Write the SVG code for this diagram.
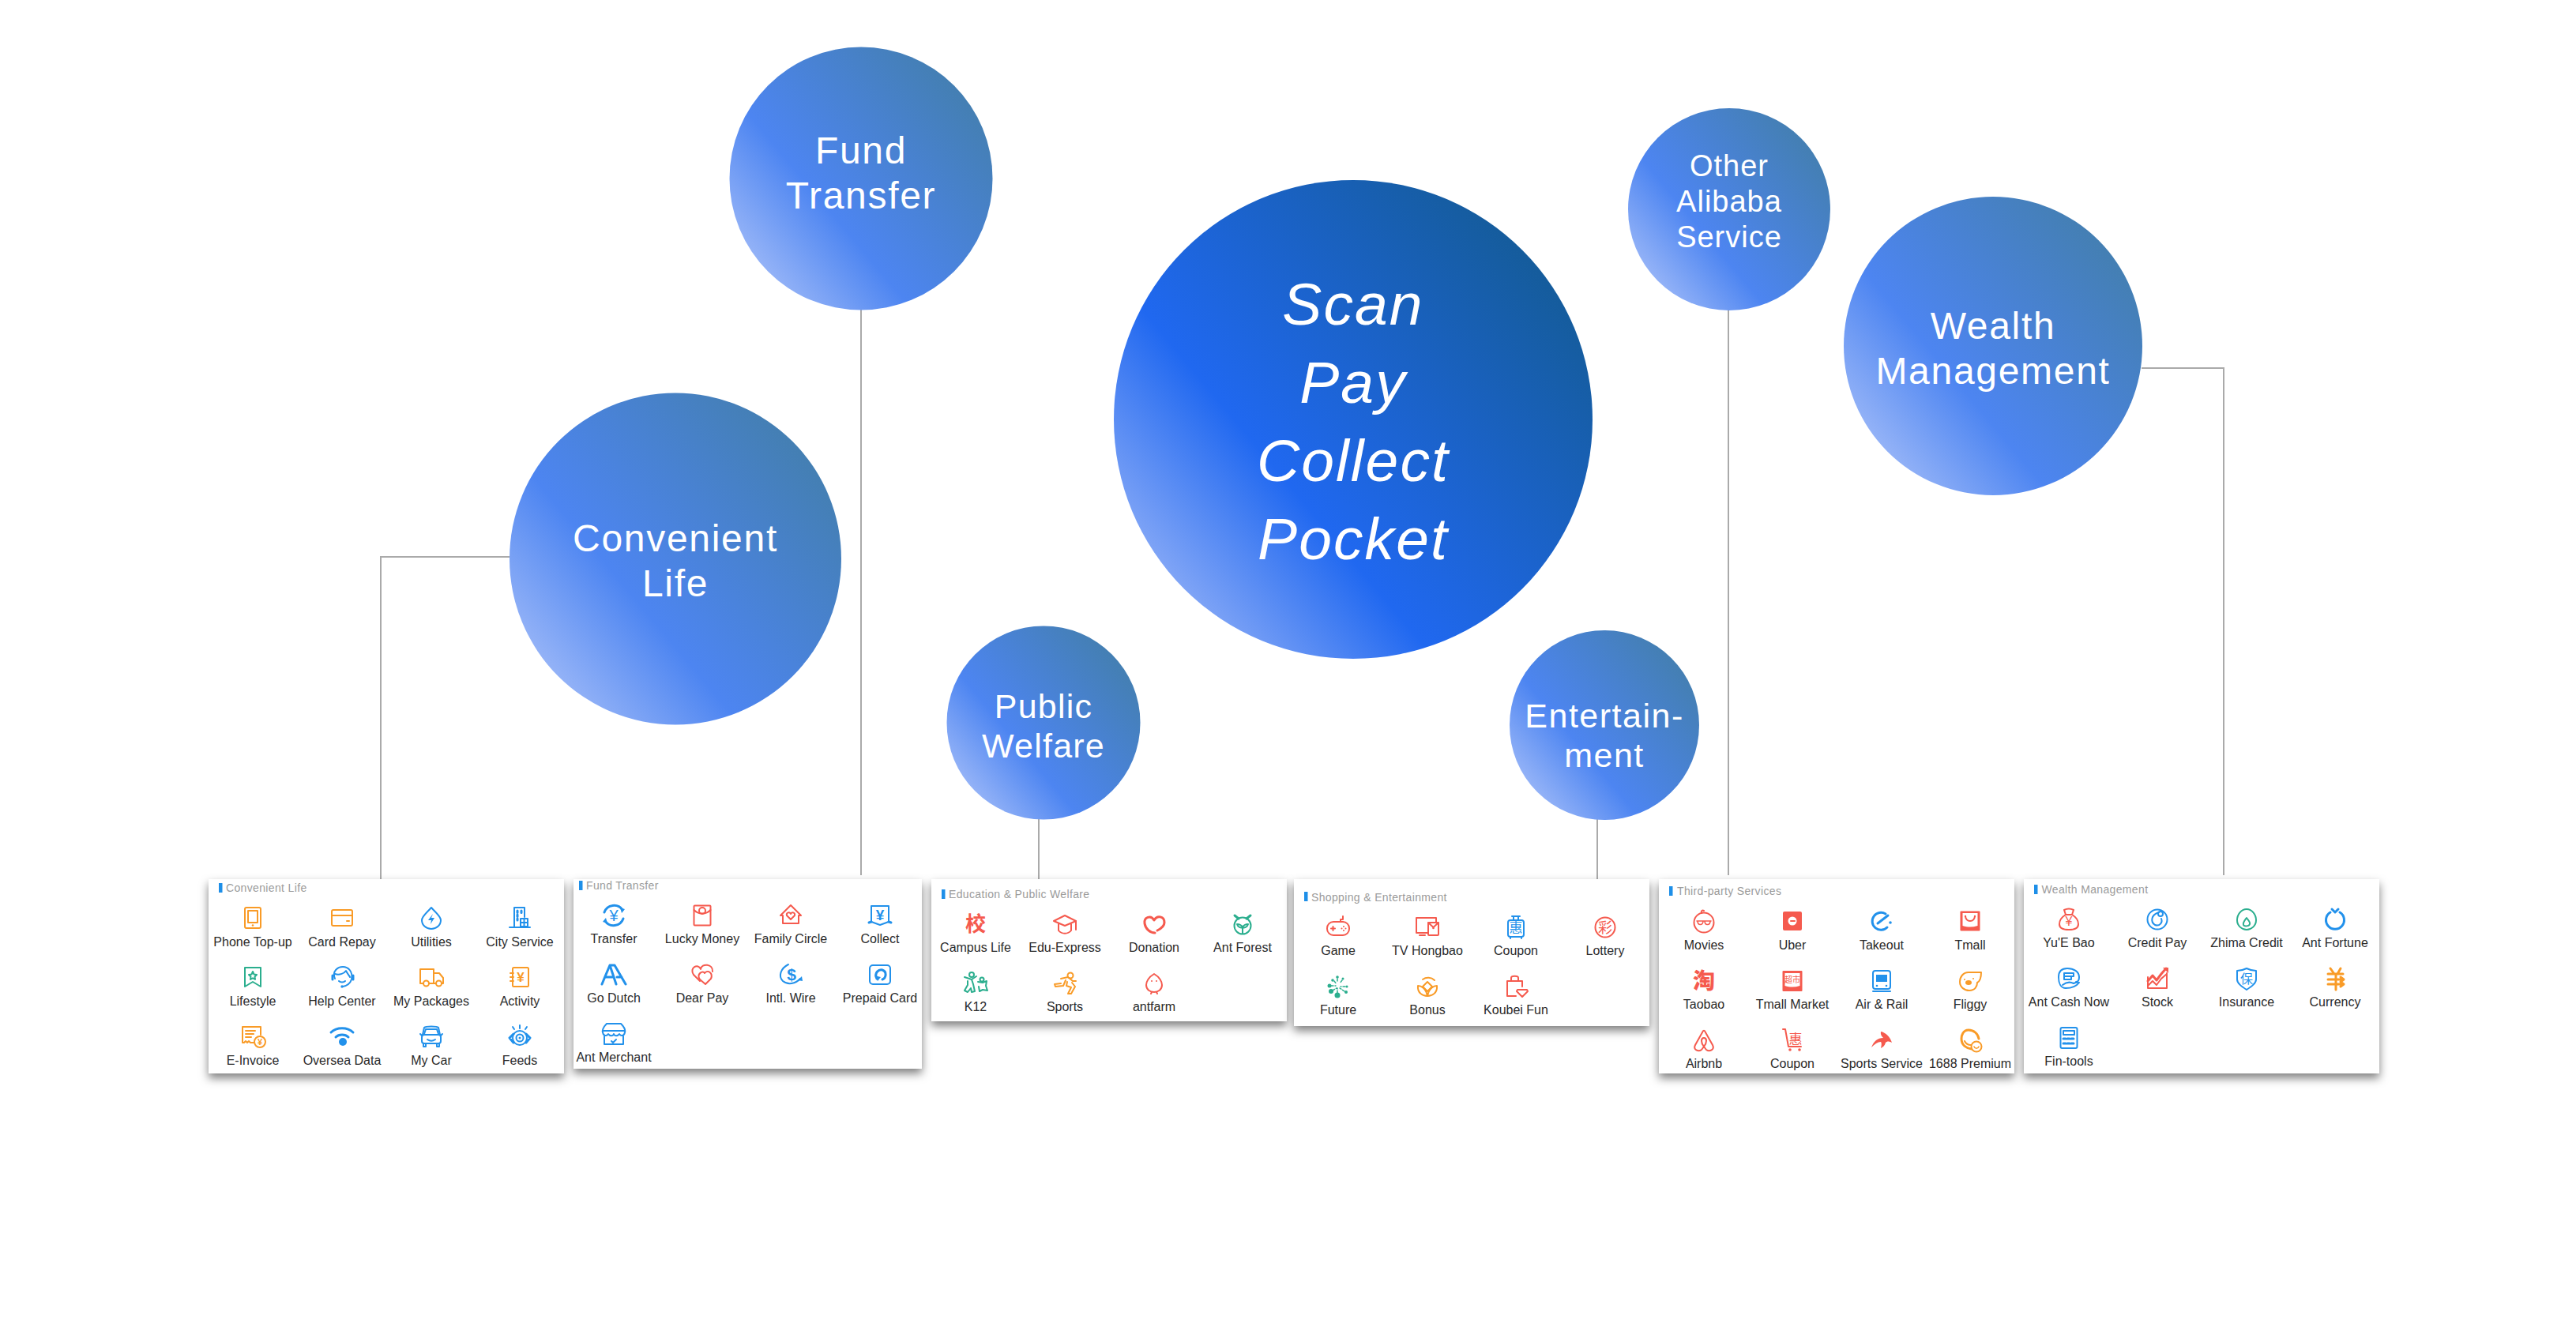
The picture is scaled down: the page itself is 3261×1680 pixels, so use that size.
<svg xmlns="http://www.w3.org/2000/svg" width="3261" height="1680" viewBox="0 0 3261 1680">
<style>
text{font-family:"Liberation Sans",Arial,"Noto Sans CJK SC",sans-serif}
.big{fill:#fff;text-anchor:middle;font-style:italic;font-size:75px;letter-spacing:2.100px}
.cap{fill:#fff;text-anchor:middle;letter-spacing:1.700px}
.conn{fill:none;stroke:#aaa;stroke-width:2}
.panel{fill:#fff;filter:url(#sh)}
.bar{fill:#1e8fe8}
.hd{fill:#9b9b9b;font-size:14px;letter-spacing:.35px}
.l{fill:#2a2a2a;font-size:16px;text-anchor:middle}
.ic{fill:none;stroke:currentColor;stroke-width:2;stroke-linejoin:round;stroke-linecap:round}
.o{color:#f99b27}.b{color:#2291eb}.r{color:#f55a4e}.g{color:#2bae8e}
.f{fill:currentColor;stroke:none}
.th{stroke-width:3}
.t{fill:currentColor;stroke:none;text-anchor:middle;font-weight:bold;font-size:14px;font-family:"Liberation Sans","Noto Sans CJK SC",sans-serif}
.c{fill:currentColor;stroke:none;text-anchor:middle;font-family:"Noto Sans CJK SC",sans-serif}
</style>
<defs>
<linearGradient id="gm" x1=".117" y1=".821" x2=".883" y2=".179"><stop offset="0" stop-color="#7fa4f6"/><stop offset=".31" stop-color="#2068f0"/><stop offset="1" stop-color="#155c9c"/></linearGradient>
<linearGradient id="gs" x1=".117" y1=".821" x2=".883" y2=".179"><stop offset="0" stop-color="#93b2f7"/><stop offset=".33" stop-color="#4d85f1"/><stop offset="1" stop-color="#447fb3"/></linearGradient>
<filter id="sh" x="-10%" y="-10%" width="120%" height="125%"><feDropShadow dx="0" dy="6" stdDeviation="6" flood-color="#000" flood-opacity=".5"/></filter>

<g id="phone" class="ic o"><rect x="-10" y="-13" width="20" height="26" rx="2"/><rect x="-6" y="-9" width="12" height="15"/><circle class="f" cx="0" cy="9.500" r="1.300"/></g>
<g id="card" class="ic o"><rect x="-13" y="-10" width="26" height="20" rx="2"/><path d="M-13-3H13"/><path d="M6 4h3"/></g>
<g id="util" class="ic b"><path d="M0-13C6-6 12-2 12 3A12 11 0 1 1-12 3C-12-2-6-6 0-13Z"/><path class="f" d="M2-5-4 3H0L-1 8 4 0H0Z"/></g>
<g id="city" class="ic b"><path d="M-7 11V-13H6V-1"/><path d="M-13 12H13"/><rect x="1" y="1" width="9" height="10"/><path d="M5.500 1V11M1 6H10"/><path class="th" stroke-dasharray="2.500 2.500" d="M-3-9V3M2-9V-4"/></g>
<g id="life" class="ic g"><path d="M-10-12H10V12L0 6-10 12Z"/><path d="M0-7 1.500-3.500 5-3 2.500-.5 3 3 0 1.300-3 3-2.500-.5-5-3-1.500-3.500Z"/></g>
<g id="help" class="ic b"><path d="M-9 2C-13-8-5-13 1-13 8-13 14-7 12 3 10 9 6 11 1 12"/><path d="M-9-4C-3-2 3-5 5-8 7-4 9-2 10 0"/><path d="M-4 5C-2 7 2 7 4 5"/><path class="th" d="M-12-2V3M14-2V3"/><circle class="f" cx="0" cy="12" r="1.700"/></g>
<g id="truck" class="ic o"><path d="M-10 8H-14V-10H3V8H-3"/><path d="M3-5H10L15 1V8H13"/><path d="M3 8H6"/><circle cx="-6.500" cy="8" r="3.500"/><circle cx="9.500" cy="8" r="3.500"/></g>
<g id="act" class="ic o"><rect x="-9" y="-12" width="20" height="24" rx="1.500"/><path d="M-12-5h4M-12 0h4M-12 5h4"/><text class="t" x="1" y="5.500" style="font-size:17px">¥</text></g>
<g id="inv" class="ic o"><path d="M1 8H-3L-5 6-7 8-9 6-11 8H-13V-12H10V-2"/><path d="M-9-7H3M-9-3H1M-9 1H-2"/><circle cx="9" cy="7" r="7"/><text class="t" x="9" y="11" style="font-size:11px">¥</text></g>
<g id="wifi" class="ic b"><path class="th" d="M-14-5C-7-12 7-12 14-5"/><path class="th" d="M-8 1C-4-3 4-3 8 1"/><circle class="f" cx="1" cy="7" r="5"/></g>
<g id="car" class="ic b"><path d="M-11-2-9-11C-7-13 7-13 9-11L11-2"/><rect x="-12" y="-2" width="24" height="11" rx="3"/><path d="M-10 9V13H-7V9M7 9V13H10V9"/><path d="M-9-3-7-9H7L9-3"/><path d="M-5 4C-2 6 2 6 5 4"/><path d="M-14-3-12-1M14-3 12-1"/></g>
<g id="feeds" class="ic b"><path d="M0-14V-10M-9-12-7-9M9-12 7-9"/><path class="th" d="M-13 2-8-3M-13 2-8 8M13 2 8-3M13 2 8 8"/><circle cx="0" cy="2" r="9"/><circle cx="0" cy="2" r="4.500"/><circle class="f" cx="0" cy="2" r="1.500"/></g>

<g id="transfer" class="ic b"><path class="th" d="M-12-4A13 13 0 0 1 11-7M12 4A13 13 0 0 1-11 7"/><path class="f" d="M8-10 14-8 10-3ZM-8 10-14 8-10 3Z"/><text class="t" x="0" y="7" style="font-size:20px;font-weight:normal">¥</text></g>
<g id="lucky" class="ic r"><rect x="-10.500" y="-12.500" width="21" height="25" rx="1"/><path d="M-10.500-7C-5-1 5-1 10.500-7"/><circle cx="0" cy="-6" r="4"/></g>
<g id="family" class="ic r"><path d="M0-13-13 0H-10V10H10V0H13Z"/><path d="M0 5-5 0C-6-4-1-5 0-2 1-5 6-4 5 0Z"/></g>
<g id="collect" class="ic b"><path d="M-11-12H11V8L0 12-11 8Z"/><path class="th" d="M-14 9-11 8M14 9 11 8"/><text class="t" x="0" y="6" style="font-size:19px">¥</text></g>
<g id="aa" class="ic b"><path class="th" d="M-15 12-5-12 3 12M-10 3H-1M-5-12H1L15 12M4 3H10"/></g>
<g id="dear" class="ic r"><path d="M-3 8-11 0C-17-9-5-15-2-7-1-15 14-14 13-4"/><path d="M4 12-3 6C-8-1 1-6 3-2 7-7 14-2 11 5Z"/></g>
<g id="wire" class="ic b"><path d="M-3-13C-13-8-16 2-10 8-4 13 6 12 12 5"/><path class="f" d="M14 2 15 8 9 7Z"/><text class="t" x="1" y="7" style="font-size:21px">$</text></g>
<g id="prep" class="ic b"><rect x="-13" y="-12" width="26" height="24" rx="4"/><path class="th" d="M-4 5C-8-3-1-7 3-6 9-4 8 4 3 6"/><path class="f" d="M-7 1-3 8 1 3Z"/></g>
<g id="merch" class="ic b"><path d="M-9-13H9C13-9 15-5 14-2 13 3 9 3 7 0 5 3 1 3 0 0-1 3-5 3-7 0-9 3-13 3-14-2-15-5-13-9-9-13Z"/><path d="M-14-4H14"/><path d="M-12 3V13H12V3"/><path d="M-3 9-1 11 3 7"/></g>

<text id="xiao" class="c r" style="font-size:26px;font-weight:700" y="9">校</text>
<g id="cap" class="ic r"><path d="M0-11-14-4 0 2 14-4Z"/><path d="M-8 0V8C-4 13 4 13 8 8V0"/><path d="M14-4V7"/></g>
<g id="don" class="ic r"><path class="th" d="M0-5C-4-12-13-9-12-1-11 6-5 11 1 11M0-5C4-12 13-10 13-2 13 3 8 6 4 8"/></g>
<g id="forest" class="ic g"><circle cx="0" cy="2" r="10.500"/><path class="th" d="M-10-11-5-7M10-11 5-7"/><path d="M0 12V3M0 4C-2 0-6 0-7 0-6 4-2 5 0 4ZM0 4C2 0 6 0 7 0 6 4 2 5 0 4Z"/></g>
<g id="k12" class="ic g"><circle cx="-5" cy="-11" r="3"/><circle cx="8" cy="-5" r="2.500"/><path d="M-14-8-5-5 1-9M-5-5-3 1-1 10-5 11-6 6-10 11-14 9-10 2-10-3M3-2 9-1 14-3 13 3 15 9 9 8 5 10 4 4"/></g>
<g id="sport" class="ic o"><circle cx="7" cy="-10" r="3.500"/><path d="M-5-6 4-8 10-3 14-3M1-4-2 3-12 4-13 1-5 0M3-2 2 3 8 5 4 13 8 13 13 4 9-1"/></g>
<g id="chick" class="ic r"><path d="M0-12C-7-8-10-2-10 2-10 8-5 11 0 11 5 11 10 8 10 2 10-2 7-8 0-12Z"/><path d="M-3 11-4 13M3 11 4 13"/><circle class="f" cx="-3" cy="-3" r="1"/><circle class="f" cx="3" cy="-3" r="1"/></g>

<g id="game" class="ic r"><rect x="-14" y="-7" width="28" height="17" rx="8"/><path d="M3-7V-10H6V-14"/><path d="M-9 1.500H-4M-6.500-1V4"/><circle class="f" cx="7" cy="-1" r="1"/><circle class="f" cx="7" cy="4" r="1"/><circle class="f" cx="4.500" cy="1.500" r="1"/><circle class="f" cx="9.500" cy="1.500" r="1"/></g>
<g id="tv" class="ic r"><path d="M1 7H-14V-12H11V-7"/><path d="M-10 10H-3"/><rect x="1" y="-6" width="13" height="16" rx="1"/><path d="M1-6 7.500 0 14-6"/><circle class="f" cx="7.500" cy="1" r="1.300"/></g>
<g id="lug" class="ic b"><rect x="-10" y="-9" width="20" height="21" rx="3"/><path d="M-5-14H5M-3-14V-9M3-14V-9M-7 12V14M7 12V14"/><text class="c" x="0" y="7" style="font-size:17px">惠</text></g>
<g id="lot" class="ic r"><circle cx="0" cy="0" r="12.500"/><text class="c" x="0" y="7" style="font-size:18px">彩</text></g>
<g id="future" class="ic g"><g class="f"><circle cx="-1" cy="11" r="3.500"/><circle cx="-9" cy="6" r="3"/><circle cx="10" cy="7" r="2"/><circle cx="-11" cy="-1" r="2.500"/><circle cx="-7" cy="-8" r="1.800"/><circle cx="-1" cy="-12" r="1.800"/><circle cx="6" cy="-10" r="1.500"/><circle cx="11" cy="0" r="1.500"/></g><path stroke-width="1.500" stroke-dasharray="3 2" d="M-1 8V2M-7 5-2 2M8 6 2 2M-9-1-3-1M-5-7-2-3M-1-10V-5M5-8 2-4M9 0H3"/></g>
<g id="bonus" class="ic o"><path d="M-6-9A12 12 0 0 1 9-8"/><path d="M0-6 6 0 0 6-6 0Z"/><path d="M-12-1C-13 8-6 12 0 12 6 12 13 8 12-1 8-1 2 2 0 12-2 2-8-1-12-1Z"/></g>
<g id="koubei" class="ic r"><path d="M0 12H-11V-7H8V0"/><path d="M-6-7V-11C-6-14 3-14 3-11V-7"/><path d="M2 4H14L15 6 8 13 1 6Z"/></g>

<g id="movies" class="ic r"><circle cx="0" cy="2" r="12.500"/><path d="M-3-10C-4-13-2-14 0-13"/><path stroke-width="1.600" d="M-9 0H9M-8 0C-8 6-1 6-1 0M1 0C1 6 8 6 8 0"/></g>
<g id="uber" class="ic r"><rect class="f" x="-12" y="-12" width="24" height="24" rx="2"/><circle cx="0" cy="0" r="5.500" fill="#fff" stroke="none"/><path stroke="#f55a4e" d="M-2 0H3"/></g>
<g id="take" class="ic b"><path class="th" d="M5-9A11 11 0 1 0 7 8M-5 3 8-7"/><circle class="f" cx="11" cy="2" r="1.800"/></g>
<g id="tmall" class="ic r"><rect class="f" x="-12.500" y="-12.500" width="25" height="25" rx="1"/><path fill="#fff" stroke="none" d="M-9.500-10H9.500V6C3 8-3 8-9.500 6Z"/><path d="M-6-6C-5 2 5 2 6-6"/><circle class="f" cx="-6" cy="-6" r="1.200"/><circle class="f" cx="6" cy="-6" r="1.200"/></g>
<text id="tao" class="c r" style="font-size:28px;font-weight:900" y="10">淘</text>
<g id="tmarket" class="ic r"><rect class="f" x="-12.500" y="-13" width="25" height="26" rx="1"/><path fill="#fff" stroke="none" d="M-9.500-10H9.500V6C3 8-3 8-9.500 6Z"/><text class="c" x="0" y="2" style="font-size:10px;letter-spacing:0">超市</text></g>
<g id="train" class="ic b"><rect x="-11" y="-13" width="22" height="23" rx="3"/><path class="f" d="M-7-8H7V1H-7Z"/><circle class="f" cx="-6" cy="6" r="1.300"/><circle class="f" cx="6" cy="6" r="1.300"/><path d="M-11 13H11"/></g>
<g id="fliggy" class="ic o"><path d="M14-11H-2C-9-11-13-5-13 1-13 8-7 12-1 12 6 12 9 7 9 2 13 0 14-6 14-11Z"/><ellipse class="f" cx="-2" cy="2" rx="4" ry="3"/><circle class="f" cx="-7" cy="-2" r="1"/><circle class="f" cx="4" cy="-3" r="1"/></g>
<g id="airbnb" class="ic r"><path d="M-2-10C-1-13 1-13 2-10L11 6C14 12 7 15 3 12L0 8-3 12C-7 15-14 12-11 6Z"/><path d="M0 8C-4 3-4-3 0-3 4-3 4 3 0 8Z"/></g>
<g id="cart" class="ic r"><path d="M-12-14H-9L-5 8H11"/><circle class="f" cx="-3" cy="12" r="1.800"/><circle class="f" cx="9" cy="12" r="1.800"/><text class="c" x="4" y="5" style="font-size:17px">惠</text></g>
<g id="swoosh" class="ic r"><path class="f" d="M-13 9C-10 1-5-3 2-3-2-7-1-10-1-11 5-10 11-4 13 3 9 1 7 1 5 3 4 7 1 9-1 10 0 6 0 3-1 2-5 2-9 5-13 9Z"/></g>
<g id="p1688" class="ic o"><path class="th" d="M-2-13C-9-13-11-6-11-2-11 6-5 10 2 11M-2-13C5-13 10-8 11-2"/><path d="M-7 1C-5 5-2 6 1 6"/><circle cx="8" cy="8" r="6.500" fill="#fff"/><path stroke-width="1.500" d="M5 8C6 11 10 11 11 8"/></g>

<g id="yue" class="ic r"><path d="M-4-6-6-12C-2-14 2-14 6-12L4-6C9-3 12 2 12 6 12 11 8 13 0 13-8 13-12 11-12 6-12 2-9-3-4-6Z"/><path d="M-4-6H4"/><text class="t" x="0" y="8" style="font-size:16px;font-weight:normal">¥</text></g>
<g id="credit" class="ic b"><circle cx="0" cy="0" r="12.500"/><path d="M2-9C-8-6-9 3-3 7 3 9 7 4 5-1"/><circle cx="4" cy="-7" r="3"/></g>
<g id="zhima" class="ic g"><path d="M0-13C-7-13-12-6-12 1-12 8-6 13 0 13 6 13 12 8 12 1 12-6 7-13 0-13Z"/><path d="M0-2C-3 2-5 4-4 7-3 9 3 9 4 6 5 3 2 1 0-2Z"/></g>
<g id="fortune" class="ic b"><path class="th" d="M-6-9A11.500 11.500 0 1 0 6-9"/><path class="th" d="M-4-13 0-9 4-13"/></g>
<g id="cash" class="ic b"><path d="M-4 12C-10 12-13 6-13-2-13-9-9-13-2-13 6-13 13-9 13-2 13 3 11 4 9 4"/><path d="M-6-7H6V-3H-6ZM-6-3H3V1H-6Z"/><path d="M-8 8C-3 4 2 4 6 6 10 4 13 5 13 5 10 9 4 12-4 12"/></g>
<g id="stock" class="ic r"><path d="M-12-2V12H12V-7"/><path class="th" d="M-12 3-6-4-1 2 5-6 11-13"/><path d="M-12 9-6 3-1 8 5 0 12-6"/><path class="f" d="M7-14H14V-7Z"/></g>
<g id="ins" class="ic b"><path d="M0-13C4-11 8-10 12-10V1C12 6 6 10 0 14-6 10-12 6-12 1V-10C-8-10-4-11 0-13Z"/><text class="c" x="0" y="6" style="font-size:16px">保</text></g>
<g id="cur" class="ic o"><path class="th" d="M-6-13-1-6M7-13 3-6M-9-6H10M-9 1H10M-9 7H10M1-6V14M7-2 11 1 7 4M7 4 11 7 7 10"/></g>
<g id="calc" class="ic b"><rect x="-10.500" y="-13" width="21" height="26" rx="2"/><rect x="-7" y="-9" width="14" height="5"/><path class="th" stroke-dasharray="3 2" d="M-7 1H7M-7 7H7"/></g>
</defs>

<rect width="3261" height="1680" fill="#fff"/>

<g id="connectors">
<path class="conn" d="M645 705H482V1113"/>
<path class="conn" d="M1090 392V1108"/>
<path class="conn" d="M1315 1037V1113"/>
<path class="conn" d="M2022 1037V1113"/>
<path class="conn" d="M2188 392V1108"/>
<path class="conn" d="M2711 466H2815V1108"/>
</g>

<g id="node-scan"><circle cx="1713" cy="531" r="303" fill="url(#gm)"/>
<text class="big" x="1713" y="411">Scan</text><text class="big" x="1713" y="510">Pay</text><text class="big" x="1713" y="609">Collect</text><text class="big" x="1713" y="708">Pocket</text></g>
<g id="node-fund"><circle cx="1090" cy="226" r="166.500" fill="url(#gs)"/>
<text class="cap" font-size="48" x="1090" y="207">Fund</text><text class="cap" font-size="48" x="1090" y="264">Transfer</text></g>
<g id="node-life"><circle cx="855" cy="707.500" r="210" fill="url(#gs)"/>
<text class="cap" font-size="48" x="855" y="698">Convenient</text><text class="cap" font-size="48" x="855" y="755">Life</text></g>
<g id="node-welfare"><circle cx="1321" cy="915" r="122.500" fill="url(#gs)"/>
<text class="cap" font-size="43" style="letter-spacing:1.200px" x="1321" y="909">Public</text><text class="cap" font-size="43" style="letter-spacing:1.200px" x="1321" y="959">Welfare</text></g>
<g id="node-ent"><circle cx="2031" cy="918" r="120" fill="url(#gs)"/>
<text class="cap" font-size="43" style="letter-spacing:1.500px" x="2031" y="921">Entertain-</text><text class="cap" font-size="43" style="letter-spacing:1.500px" x="2031" y="971">ment</text></g>
<g id="node-other"><circle cx="2189" cy="265" r="128" fill="url(#gs)"/>
<text class="cap" font-size="38" style="letter-spacing:1px" x="2189" y="223">Other</text><text class="cap" font-size="38" style="letter-spacing:1px" x="2189" y="268">Alibaba</text><text class="cap" font-size="38" style="letter-spacing:1px" x="2189" y="313">Service</text></g>
<g id="node-wealth"><circle cx="2523" cy="438" r="189" fill="url(#gs)"/>
<text class="cap" font-size="48" x="2523" y="429">Wealth</text><text class="cap" font-size="48" x="2523" y="486">Management</text></g>

<g id="panel-life"><rect class="panel" x="264" y="1113" width="450" height="246"/><rect class="bar" x="277" y="1118" width="4.500" height="12"/><text class="hd" x="286" y="1129">Convenient Life</text>
<use href="#phone" x="320" y="1162"/><text class="l" x="320" y="1198">Phone Top-up</text>
<use href="#card" x="433" y="1162"/><text class="l" x="433" y="1198">Card Repay</text>
<use href="#util" x="546" y="1162"/><text class="l" x="546" y="1198">Utilities</text>
<use href="#city" x="658" y="1162"/><text class="l" x="658" y="1198">City Service</text>
<use href="#life" x="320" y="1237"/><text class="l" x="320" y="1273">Lifestyle</text>
<use href="#help" x="433" y="1237"/><text class="l" x="433" y="1273">Help Center</text>
<use href="#truck" x="546" y="1237"/><text class="l" x="546" y="1273">My Packages</text>
<use href="#act" x="658" y="1237"/><text class="l" x="658" y="1273">Activity</text>
<use href="#inv" x="320" y="1312"/><text class="l" x="320" y="1348">E-Invoice</text>
<use href="#wifi" x="433" y="1312"/><text class="l" x="433" y="1348">Oversea Data</text>
<use href="#car" x="546" y="1312"/><text class="l" x="546" y="1348">My Car</text>
<use href="#feeds" x="658" y="1312"/><text class="l" x="658" y="1348">Feeds</text></g>

<g id="panel-fund"><rect class="panel" x="726" y="1113" width="441" height="240"/><rect class="bar" x="733" y="1115" width="4.500" height="12"/><text class="hd" x="742" y="1126">Fund Transfer</text>
<use href="#transfer" x="777" y="1159"/><text class="l" x="777" y="1194">Transfer</text>
<use href="#lucky" x="889" y="1159"/><text class="l" x="889" y="1194">Lucky Money</text>
<use href="#family" x="1001" y="1159"/><text class="l" x="1001" y="1194">Family Circle</text>
<use href="#collect" x="1114" y="1159"/><text class="l" x="1114" y="1194">Collect</text>
<use href="#aa" x="777" y="1234"/><text class="l" x="777" y="1269">Go Dutch</text>
<use href="#dear" x="889" y="1234"/><text class="l" x="889" y="1269">Dear Pay</text>
<use href="#wire" x="1001" y="1234"/><text class="l" x="1001" y="1269">Intl. Wire</text>
<use href="#prep" x="1114" y="1234"/><text class="l" x="1114" y="1269">Prepaid Card</text>
<use href="#merch" x="777" y="1309"/><text class="l" x="777" y="1344">Ant Merchant</text></g>

<g id="panel-welfare"><rect class="panel" x="1179" y="1113" width="450" height="180"/><rect class="bar" x="1192" y="1126" width="4.500" height="12"/><text class="hd" x="1201" y="1137">Education &amp; Public Welfare</text>
<use href="#xiao" x="1235" y="1170"/><text class="l" x="1235" y="1205">Campus Life</text>
<use href="#cap" x="1348" y="1170"/><text class="l" x="1348" y="1205">Edu-Express</text>
<use href="#don" x="1461" y="1170"/><text class="l" x="1461" y="1205">Donation</text>
<use href="#forest" x="1573" y="1170"/><text class="l" x="1573" y="1205">Ant Forest</text>
<use href="#k12" x="1235" y="1245"/><text class="l" x="1235" y="1280">K12</text>
<use href="#sport" x="1348" y="1245"/><text class="l" x="1348" y="1280">Sports</text>
<use href="#chick" x="1461" y="1245"/><text class="l" x="1461" y="1280">antfarm</text></g>

<g id="panel-ent"><rect class="panel" x="1638" y="1113" width="450" height="186"/><rect class="bar" x="1651" y="1129" width="4.500" height="12"/><text class="hd" x="1660" y="1141">Shopping &amp; Entertainment</text>
<use href="#game" x="1694" y="1174"/><text class="l" x="1694" y="1209">Game</text>
<use href="#tv" x="1807" y="1174"/><text class="l" x="1807" y="1209">TV Hongbao</text>
<use href="#lug" x="1919" y="1174"/><text class="l" x="1919" y="1209">Coupon</text>
<use href="#lot" x="2032" y="1174"/><text class="l" x="2032" y="1209">Lottery</text>
<use href="#future" x="1694" y="1249"/><text class="l" x="1694" y="1284">Future</text>
<use href="#bonus" x="1807" y="1249"/><text class="l" x="1807" y="1284">Bonus</text>
<use href="#koubei" x="1919" y="1249"/><text class="l" x="1919" y="1284">Koubei Fun</text></g>

<g id="panel-third"><rect class="panel" x="2100" y="1113" width="450" height="246"/><rect class="bar" x="2113" y="1122" width="4.500" height="12"/><text class="hd" x="2123" y="1133">Third-party Services</text>
<use href="#movies" x="2157" y="1166"/><text class="l" x="2157" y="1202">Movies</text>
<use href="#uber" x="2269" y="1166"/><text class="l" x="2269" y="1202">Uber</text>
<use href="#take" x="2382" y="1166"/><text class="l" x="2382" y="1202">Takeout</text>
<use href="#tmall" x="2494" y="1166"/><text class="l" x="2494" y="1202">Tmall</text>
<use href="#tao" x="2157" y="1242"/><text class="l" x="2157" y="1277">Taobao</text>
<use href="#tmarket" x="2269" y="1242"/><text class="l" x="2269" y="1277">Tmall Market</text>
<use href="#train" x="2382" y="1242"/><text class="l" x="2382" y="1277">Air &amp; Rail</text>
<use href="#fliggy" x="2494" y="1242"/><text class="l" x="2494" y="1277">Fliggy</text>
<use href="#airbnb" x="2157" y="1317"/><text class="l" x="2157" y="1352">Airbnb</text>
<use href="#cart" x="2269" y="1317"/><text class="l" x="2269" y="1352">Coupon</text>
<use href="#swoosh" x="2382" y="1317"/><text class="l" x="2382" y="1352">Sports Service</text>
<use href="#p1688" x="2494" y="1317"/><text class="l" x="2494" y="1352">1688 Premium</text></g>

<g id="panel-wealth"><rect class="panel" x="2562" y="1113" width="450" height="246"/><rect class="bar" x="2575" y="1120" width="4.500" height="12"/><text class="hd" x="2584.500" y="1131">Wealth Management</text>
<use href="#yue" x="2619" y="1164"/><text class="l" x="2619" y="1199">Yu'E Bao</text>
<use href="#credit" x="2731" y="1164"/><text class="l" x="2731" y="1199">Credit Pay</text>
<use href="#zhima" x="2844" y="1164"/><text class="l" x="2844" y="1199">Zhima Credit</text>
<use href="#fortune" x="2956" y="1164"/><text class="l" x="2956" y="1199">Ant Fortune</text>
<use href="#cash" x="2619" y="1239"/><text class="l" x="2619" y="1274">Ant Cash Now</text>
<use href="#stock" x="2731" y="1239"/><text class="l" x="2731" y="1274">Stock</text>
<use href="#ins" x="2844" y="1239"/><text class="l" x="2844" y="1274">Insurance</text>
<use href="#cur" x="2956" y="1239"/><text class="l" x="2956" y="1274">Currency</text>
<use href="#calc" x="2619" y="1314"/><text class="l" x="2619" y="1349">Fin-tools</text></g>
</svg>
